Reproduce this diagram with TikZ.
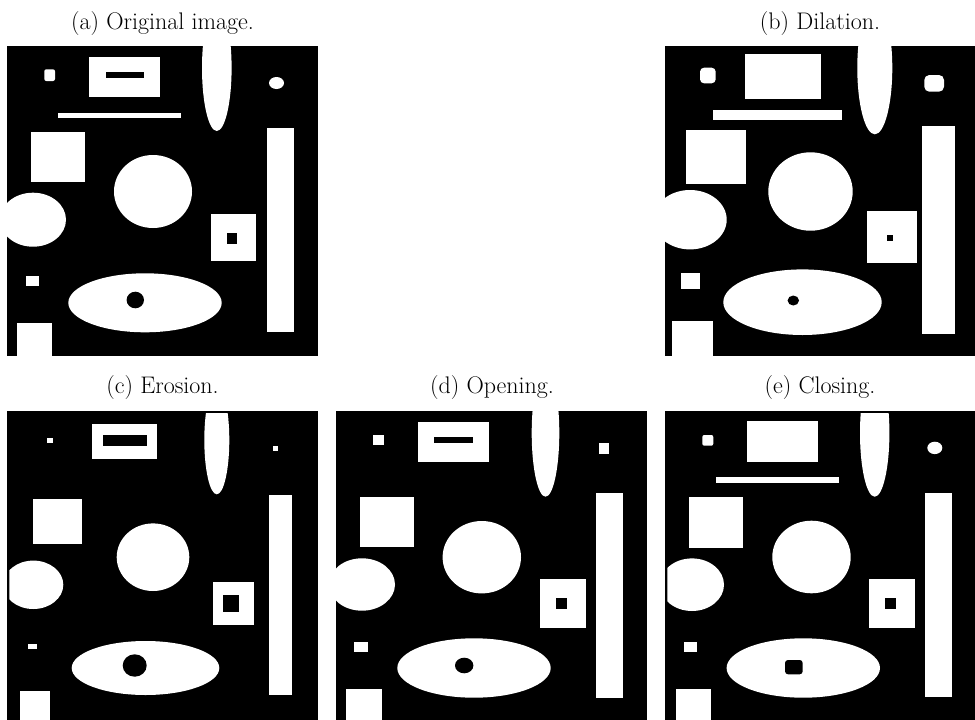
\documentclass[tikz,border=0pt]{standalone}
\begin{document}
\begin{tikzpicture}[x=1pt,y=-1pt,
  bg/.style={fill=black},
  wh/.style={fill=white},
  bk/.style={fill=black},
  captxt/.style={font=\fontsize{24}{28}\selectfont, anchor=base, inner sep=0pt}]
\useasboundingbox (0,0) rectangle (975,720);
\fill[white] (0,0) rectangle (975,720);

% captions
\node[captxt] (la) at (162.5,29.5) {(a) Original image.};
\node[captxt] (lb) at (820,29.5) {(b) Dilation.};
\node[captxt] (lc) at (162.5,393) {(c) Erosion.};
\node[captxt] (ld) at (492,393) {(d) Opening.};
\node[captxt] (le) at (820,393) {(e) Closing.};

% (a) original
\begin{scope}
\clip (7,46) rectangle (318,356);
\fill[bg] (7,46) rectangle (318,356);
\fill[wh,rounded corners=2pt] (44.3,69.3) rectangle (55,81);
\fill[wh] (89.3,56.7) rectangle (160,96.7);
\fill[bk] (106,72.3) rectangle (144,77.7);
\fill[wh] (57.7,112.7) rectangle (181,118);
\fill[wh] (216.8,68) ellipse [x radius=14.8pt, y radius=63pt];
\fill[wh] (276.5,83) ellipse [x radius=7.5pt, y radius=6pt];
\fill[wh] (31,131.7) rectangle (85,181.7);
\fill[wh] (153,191.5) ellipse [x radius=39pt, y radius=36.5pt];
\fill[wh] (33,219.7) ellipse [x radius=33pt, y radius=27pt];
\fill[wh] (210.7,214) rectangle (256,261);
\fill[bk] (226.7,233.3) rectangle (237.3,244);
\fill[wh] (266.7,128.3) rectangle (294,332.3);
\fill[wh] (25.7,276) rectangle (39.3,286);
\fill[wh] (145,302.8) ellipse [x radius=76.7pt, y radius=29.5pt];
\fill[bk] (135.3,300) ellipse [x radius=8.7pt, y radius=8.3pt];
\fill[wh] (17.3,323.3) rectangle (52.3,360);
\end{scope}

% (b) dilation
\begin{scope}
\clip (665,46) rectangle (975,356);
\fill[bg] (665,46) rectangle (975,356);
\fill[wh,rounded corners=4pt] (700,67.7) rectangle (715.7,83.3);
\fill[wh] (745,54) rectangle (820.7,99.3);
\fill[wh] (712.7,110) rectangle (842.3,120);
\fill[wh] (874.8,68) ellipse [x radius=17.5pt, y radius=66.3pt];
\fill[wh,rounded corners=5pt] (924.3,75) rectangle (944,91.7);
\fill[wh] (686,130) rectangle (746,184);
\fill[wh] (810.5,191.5) ellipse [x radius=42.2pt, y radius=39.2pt];
\fill[wh] (690,219.7) ellipse [x radius=36.7pt, y radius=29.7pt];
\fill[wh] (867.3,211) rectangle (917.3,263.3);
\fill[bk] (887.3,235.3) rectangle (892.7,240.7);
\fill[wh] (922.3,125.7) rectangle (955,334.3);
\fill[wh] (680.7,273.3) rectangle (700,289.3);
\fill[wh] (802.5,302.2) ellipse [x radius=79.2pt, y radius=32.8pt];
\fill[bk] (793.3,300.5) ellipse [x radius=5.7pt, y radius=5pt];
\fill[wh] (672.3,320.7) rectangle (713.3,360);
\end{scope}

% (c) erosion
\begin{scope}
\clip (7,411) rectangle (318,720);
\fill[bg] (7,411) rectangle (318,720);
\fill[wh] (46.7,437.7) rectangle (52.7,443.3);
\fill[wh] (92.3,424) rectangle (157.3,459.3);
\fill[bk] (102.7,435) rectangle (146.7,446);
\begin{scope}
\clip (190,413.3) rectangle (240,500);
\fill[wh] (216.8,440) ellipse [x radius=12.5pt, y radius=54.3pt];
\end{scope}
\fill[wh] (272.7,446) rectangle (278.3,451);
\fill[wh] (33.3,499.3) rectangle (82.3,544.3);
\fill[wh] (153,557.2) ellipse [x radius=36.3pt, y radius=33.8pt];
\begin{scope}
\clip (9.3,550) rectangle (80,620);
\fill[wh] (33.3,584.8) ellipse [x radius=30pt, y radius=24.2pt];
\end{scope}
\fill[wh] (213.3,582.3) rectangle (254,625);
\fill[bk] (223.3,595) rectangle (239.3,611.7);
\fill[wh] (269.3,495) rectangle (292.3,695);
\fill[wh] (28.3,644) rectangle (36.7,649.3);
\fill[wh] (145.5,668) ellipse [x radius=73.8pt, y radius=27pt];
\fill[bk] (134.7,665.5) ellipse [x radius=12pt, y radius=11.2pt];
\fill[wh] (20,690.7) rectangle (50,725);
\end{scope}

% (d) opening
\begin{scope}
\clip (336,411) rectangle (647,720);
\fill[bg] (336,411) rectangle (647,720);
\fill[wh] (373.3,435) rectangle (384,445);
\fill[wh] (418.3,421.7) rectangle (489.3,461.7);
\fill[bk] (434.3,437.3) rectangle (472.7,442.7);
\fill[wh] (545.5,433) ellipse [x radius=13.8pt, y radius=63.7pt];
\fill[wh] (599.3,443.3) rectangle (609.3,454);
\fill[wh] (360,496.7) rectangle (414,547.3);
\fill[wh] (481.8,557.2) ellipse [x radius=39.2pt, y radius=36.2pt];
\fill[wh] (362,584.5) ellipse [x radius=33pt, y radius=26.2pt];
\fill[wh] (540,579.3) rectangle (585.7,627.7);
\fill[bk] (555.7,598.3) rectangle (566.7,609);
\fill[wh] (596,493.3) rectangle (623.3,697.7);
\fill[wh] (354.3,641.7) rectangle (368.3,652.3);
\fill[wh] (474,668) ellipse [x radius=76.7pt, y radius=29.7pt];
\fill[bk] (464.2,665.5) ellipse [x radius=9.2pt, y radius=7.8pt];
\fill[wh] (346,689.3) rectangle (382.3,725);
\end{scope}

% (e) closing
\begin{scope}
\clip (665,411) rectangle (975,720);
\fill[bg] (665,411) rectangle (975,720);
\fill[wh,rounded corners=2pt] (702.3,435) rectangle (713.3,445.7);
\fill[wh] (746.7,421) rectangle (818.3,461.7);
\fill[wh] (715.7,477.3) rectangle (839.3,483.3);
\begin{scope}
\clip (850,413.3) rectangle (900,500);
\fill[wh] (874.7,433) ellipse [x radius=14.7pt, y radius=63.7pt];
\end{scope}
\fill[wh] (934.8,447.9) ellipse [x radius=7.5pt, y radius=6.2pt];
\fill[wh] (689,496.7) rectangle (743.3,547.7);
\fill[wh] (811.5,557) ellipse [x radius=39.2pt, y radius=36.3pt];
\begin{scope}
\clip (667.3,550) rectangle (740,620);
\fill[wh] (692,584.7) ellipse [x radius=32pt, y radius=26.3pt];
\end{scope}
\fill[wh] (869,579.3) rectangle (915,627.7);
\fill[bk] (885,598.3) rectangle (896,609);
\fill[wh] (925,493.3) rectangle (952.3,697.3);
\fill[wh] (684,642.3) rectangle (696.7,652.3);
\fill[wh] (803.3,668) ellipse [x radius=76.7pt, y radius=29.7pt];
\fill[bk,rounded corners=3pt] (785,660) rectangle (802.7,674.3);
\fill[wh] (675.7,689.3) rectangle (711,725);
\end{scope}
\end{tikzpicture}
\end{document}
